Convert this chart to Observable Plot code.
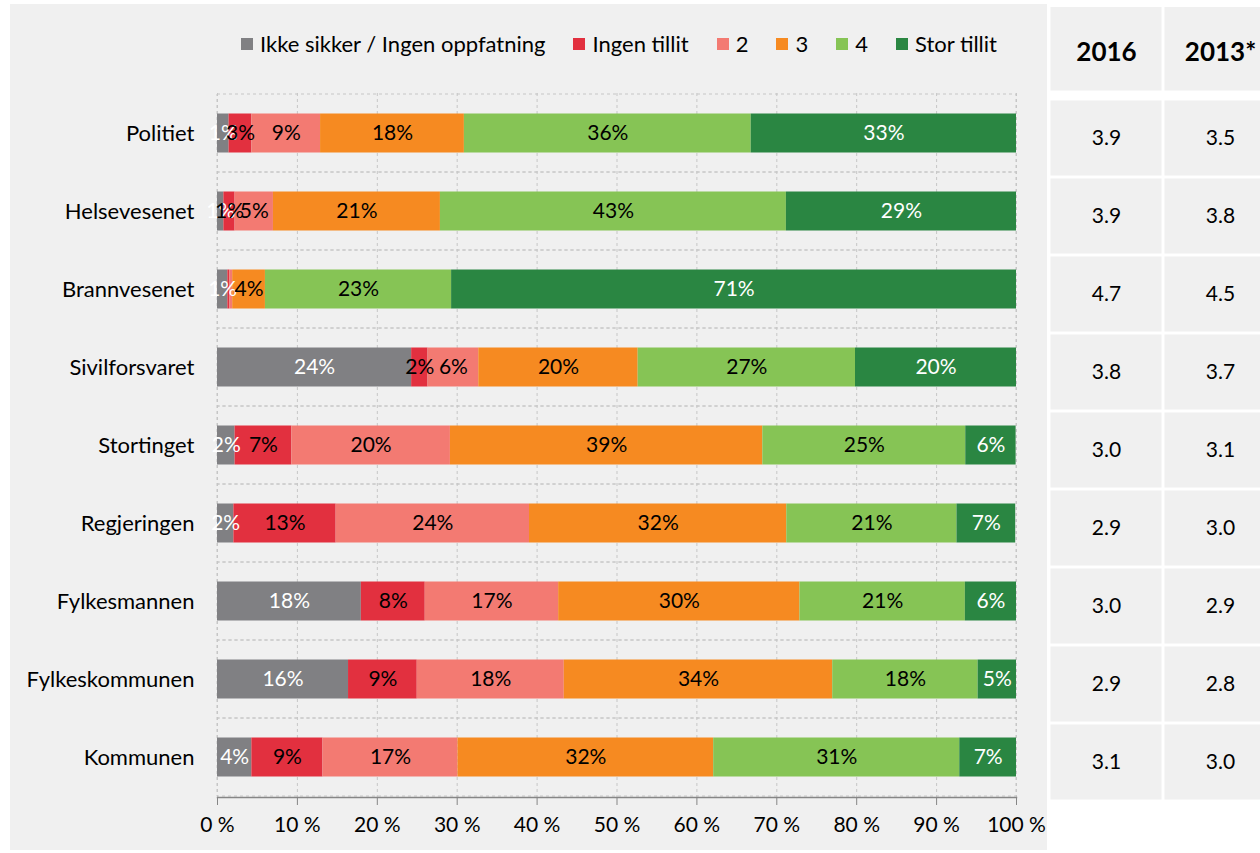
<!DOCTYPE html>
<html><head><meta charset="utf-8">
<script src="https://cdn.jsdelivr.net/npm/d3@7"></script>
<script src="https://cdn.jsdelivr.net/npm/@observablehq/plot@0.6"></script>
<style>
body{margin:0;background:#fff;font-family:Lato,sans-serif}
#wrap{position:relative;width:1260px;height:853px;overflow:hidden}
#bg{position:absolute;left:10px;top:4px;width:1037px;height:846px;background:#f0f0f0}
#legend{position:absolute;left:241px;top:30px;display:flex;align-items:center;font-size:22px;line-height:28px;color:#000;white-space:nowrap}
#legend .sw{display:inline-block;width:12px;height:12px;margin-right:7px}
#legend .it{display:flex;align-items:center;margin-right:28px}
.abs{position:absolute}
[aria-label="x-axis tick label"],[aria-label="y-axis tick label"]{fill:#000}
</style></head>
<body>
<div id="wrap">
  <div id="bg"></div>
  <div id="chart" class="abs" style="left:0;top:0;width:1047px"></div>
  <div id="legend"></div>
  <div id="thead" class="abs" style="left:1047px;top:4px;width:213px"></div>
  <div id="tbody" class="abs" style="left:1047px;top:93px;width:213px"></div>
</div>
<script>
const categories = ["Politiet","Helsevesenet","Brannvesenet","Sivilforsvaret","Stortinget","Regjeringen","Fylkesmannen","Fylkeskommunen","Kommunen"];
const seriesNames = ["Ikke sikker / Ingen oppfatning","Ingen tillit","2","3","4","Stor tillit"];
const seriesColors = ["#808083","#e2303f","#f37a72","#f68a21","#86c455","#2a8642"];
const ikkeSikker = [1.45,0.8,1.3,24.3,2.2,2.05,18.0,16.4,4.3];
const ingenTillit = [2.85,1.4,0.25,2.05,7.1,12.8,8.0,8.6,8.9];
const score2 = [8.6,4.8,0.35,6.35,19.85,24.2,16.7,18.4,16.9];
const score3 = [18.0,20.9,4.1,19.95,39.1,32.2,30.2,33.6,32.0];
const score4 = [35.9,43.3,23.3,27.2,25.4,21.3,20.7,18.2,30.8];
const storTillit = [33.2,28.8,70.7,20.15,6.3,7.35,6.4,4.8,7.1];
const xTicks = [0,10,20,30,40,50,60,70,80,90,100];
const years = ["2016","2013*"];
const avg2016 = [3.9,3.9,4.7,3.8,3.0,2.9,3.0,2.9,3.1];
const avg2013 = [3.5,3.8,4.5,3.7,3.1,3.0,2.9,2.8,3.0];

const seriesArrays = [ikkeSikker, ingenTillit, score2, score3, score4, storTillit];
const rows = categories.flatMap((c, i) => seriesArrays.map((arr, j) => ({cat: c, series: seriesNames[j], value: arr[i]})));
const whiteText = new Set([seriesNames[0], seriesNames[5]]);
const lab = d => d.value >= 0.5 ? Math.round(d.value) + "%" : null;

const grid = {stroke: "#c6c6c6", strokeDasharray: "3,3", strokeWidth: 1};

const chart = Plot.plot({
  width: 1047, height: 853,
  marginLeft: 217, marginRight: 31, marginTop: 93, marginBottom: 56,
  style: {background: "transparent", fontFamily: "Lato, sans-serif", overflow: "visible"},
  x: {domain: [0, 100]},
  y: {domain: categories, padding: 0},
  color: {domain: seriesNames, range: seriesColors},
  marks: [
    Plot.barX(categories, {y: d => d, x1: () => 0, x2: () => 100, fill: "none", ...grid}),
    Plot.ruleX(xTicks, grid),
    Plot.barX(rows, Plot.stackX({x: "value", y: "cat", fill: "series", insetTop: 19.5, insetBottom: 19.5})),
    Plot.text(rows, Plot.stackX({x: "value", y: "cat", text: d => whiteText.has(d.series) ? lab(d) : null, fill: "white", fontSize: 21})),
    Plot.text(rows, Plot.stackX({x: "value", y: "cat", text: d => whiteText.has(d.series) ? null : lab(d), fill: "black", fontSize: 21})),
    Plot.frame({anchor: "bottom", stroke: "#868686", strokeWidth: 1.5}),
    Plot.axisX({ticks: xTicks, tickFormat: d => d + " %", tickSize: 8, tickPadding: 12, fontSize: 21, label: null, stroke: "#868686", fill: "#000"}),
    Plot.axisY({tickSize: 0, tickPadding: 23, fontSize: 22, label: null, fill: "#000"})
  ]
});
document.getElementById("chart").appendChild(chart);

const legend = document.getElementById("legend");
seriesNames.forEach((s, i) => {
  const it = document.createElement("span");
  it.className = "it";
  const sw = document.createElement("span");
  sw.className = "sw";
  sw.style.background = seriesColors[i];
  it.appendChild(sw);
  it.appendChild(document.createTextNode(s));
  legend.appendChild(it);
});

const thead = Plot.plot({
  width: 213, height: 88, margin: 0, marginTop: 1.5,
  style: {background: "transparent", fontFamily: "Lato, sans-serif"},
  x: {domain: years, range: [1.5, 229.5], padding: 0, axis: null},
  marks: [
    Plot.cell(years, {x: d => d, fill: "#f0f0f0", inset: 1.5}),
    Plot.text(years, {x: d => d, text: d => d, fontSize: 26, fontWeight: "bold", dy: 3, fill: "#000"})
  ]
});
document.getElementById("thead").appendChild(thead);

const tableRows = categories.flatMap((c, i) => [
  {cat: c, year: years[0], value: avg2016[i]},
  {cat: c, year: years[1], value: avg2013[i]}
]);
const tbody = Plot.plot({
  width: 213, height: 712, margin: 0, marginTop: 1.5,
  style: {background: "transparent", fontFamily: "Lato, sans-serif"},
  x: {domain: years, range: [1.5, 229.5], padding: 0, axis: null},
  y: {domain: categories, padding: 0, axis: null},
  marks: [
    Plot.cell(tableRows, {x: "year", y: "cat", fill: "#f0f0f0", inset: 1.5}),
    Plot.text(tableRows, {x: "year", y: "cat", text: d => d.value.toFixed(1), fontSize: 21, fill: "#000"})
  ]
});
document.getElementById("tbody").appendChild(tbody);
</script>
</body></html>
